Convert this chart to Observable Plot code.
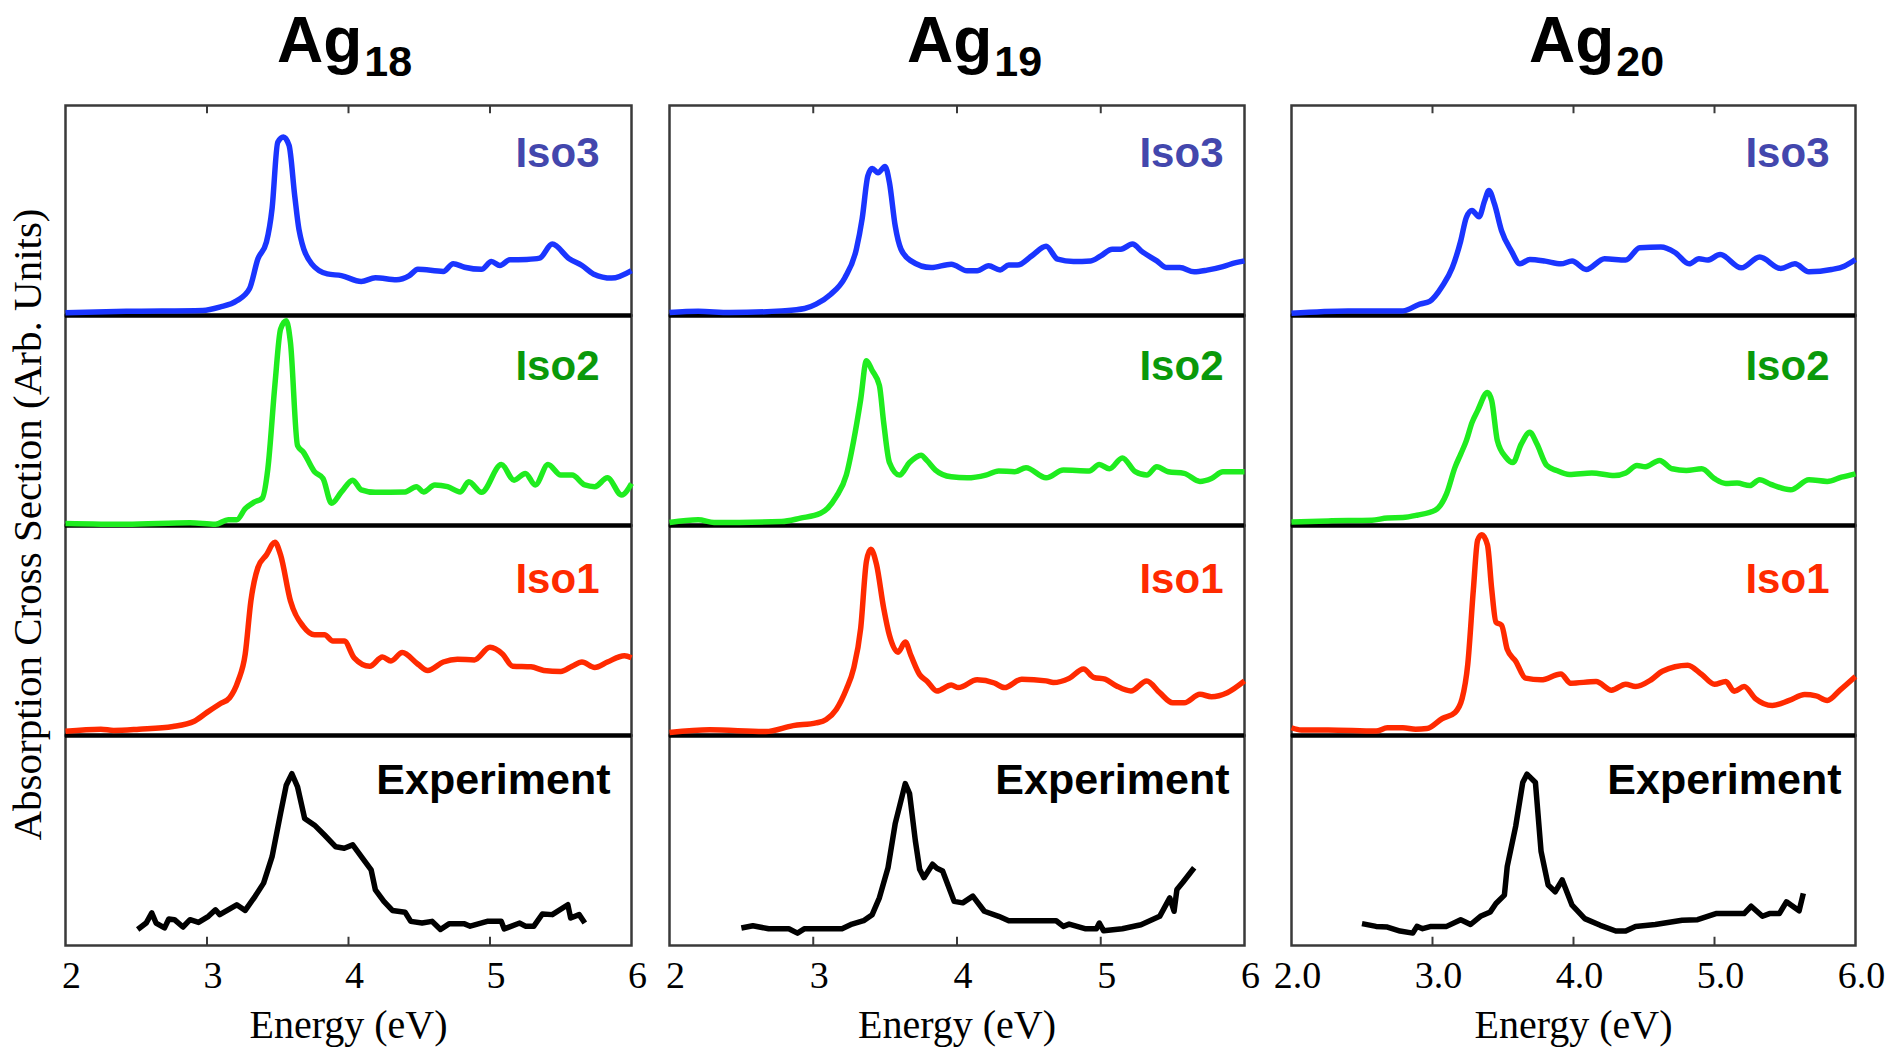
<!DOCTYPE html>
<html><head><meta charset="utf-8">
<script src="https://cdn.jsdelivr.net/npm/d3@7"></script>
<script src="https://cdn.jsdelivr.net/npm/@observablehq/plot@0.6"></script>
<style>
body{margin:0;background:#fff;}
#root{position:relative;width:1886px;height:1050px;overflow:hidden;background:#fff;}
.col{position:absolute;}
.col svg{overflow:visible;}
.title{position:absolute;font-family:"Liberation Sans",Arial,sans-serif;font-weight:bold;font-size:64px;line-height:64px;white-space:nowrap;color:#000;}
.title .sub{font-size:43px;position:relative;top:14px;margin-left:2px;}
.ylab{position:absolute;font-family:"Liberation Serif","Times New Roman",serif;font-size:41px;line-height:41px;width:760px;text-align:center;transform:rotate(-90deg);white-space:nowrap;color:#000;}
</style></head><body><div id="root"></div>
<script>
// ---------------- DATA (energy in eV, absorption in arbitrary units, 0 = panel baseline, 1 = panel top) ----------------
const rows = ["Iso3", "Iso2", "Iso1", "Experiment"];
const clusters = ["Ag18", "Ag19", "Ag20"];
const xTicks = [2, 3, 4, 5, 6];
const yLabel = "Absorption Cross Section (Arb. Units)";
const xLabel = "Energy (eV)";

const ag18Iso3 = [[2.0,0.013],[2.43,0.02],[2.97,0.024],[3.09,0.04],[3.21,0.07],[3.30,0.127],[3.36,0.27],[3.42,0.35],[3.46,0.51],[3.50,0.825],[3.54,0.85],[3.58,0.81],[3.62,0.57],[3.65,0.41],[3.74,0.246],[3.85,0.198],[3.95,0.19],[4.09,0.162],[4.19,0.18],[4.34,0.17],[4.43,0.19],[4.49,0.22],[4.67,0.21],[4.74,0.246],[4.82,0.23],[4.94,0.22],[5.01,0.257],[5.07,0.238],[5.14,0.265],[5.26,0.267],[5.35,0.273],[5.44,0.34],[5.56,0.27],[5.65,0.238],[5.73,0.198],[5.86,0.178],[6.0,0.214]];
const ag18Iso2 = [[2.0,0.01],[2.43,0.006],[2.88,0.013],[3.06,0.006],[3.15,0.027],[3.21,0.027],[3.27,0.08],[3.33,0.11],[3.39,0.13],[3.43,0.27],[3.48,0.67],[3.52,0.935],[3.56,0.975],[3.59,0.87],[3.64,0.38],[3.68,0.35],[3.76,0.256],[3.82,0.224],[3.88,0.106],[3.95,0.16],[4.03,0.216],[4.09,0.17],[4.19,0.158],[4.40,0.16],[4.48,0.185],[4.53,0.16],[4.61,0.193],[4.70,0.185],[4.79,0.16],[4.85,0.208],[4.94,0.158],[5.08,0.29],[5.17,0.216],[5.25,0.248],[5.32,0.193],[5.41,0.29],[5.50,0.24],[5.58,0.24],[5.67,0.193],[5.74,0.185],[5.83,0.227],[5.93,0.145],[6.0,0.2]];
const ag18Iso1 = [[2.0,0.02],[2.25,0.03],[2.34,0.024],[2.52,0.03],[2.76,0.043],[2.91,0.068],[3.0,0.11],[3.09,0.15],[3.16,0.18],[3.22,0.26],[3.27,0.387],[3.31,0.64],[3.36,0.80],[3.42,0.86],[3.48,0.92],[3.52,0.86],[3.59,0.64],[3.68,0.52],[3.76,0.48],[3.83,0.48],[3.89,0.45],[3.97,0.45],[4.04,0.37],[4.15,0.33],[4.24,0.374],[4.30,0.355],[4.38,0.395],[4.49,0.34],[4.56,0.31],[4.67,0.35],[4.77,0.363],[4.89,0.36],[5.0,0.42],[5.09,0.387],[5.16,0.33],[5.29,0.327],[5.38,0.31],[5.50,0.305],[5.58,0.33],[5.65,0.35],[5.74,0.324],[5.83,0.35],[5.95,0.38],[6.0,0.37]];
const ag18Exp = [[2.51,0.076],[2.57,0.107],[2.61,0.155],[2.64,0.107],[2.70,0.084],[2.73,0.126],[2.77,0.123],[2.83,0.088],[2.88,0.123],[2.94,0.11],[3.01,0.139],[3.06,0.17],[3.09,0.147],[3.21,0.194],[3.27,0.167],[3.34,0.234],[3.40,0.297],[3.46,0.423],[3.52,0.63],[3.56,0.763],[3.60,0.818],[3.64,0.755],[3.69,0.605],[3.76,0.573],[3.83,0.526],[3.91,0.47],[3.97,0.463],[4.03,0.479],[4.10,0.415],[4.16,0.36],[4.19,0.265],[4.25,0.21],[4.31,0.167],[4.40,0.158],[4.44,0.115],[4.52,0.107],[4.59,0.115],[4.65,0.076],[4.71,0.103],[4.82,0.103],[4.86,0.092],[4.98,0.115],[5.08,0.115],[5.10,0.079],[5.21,0.107],[5.25,0.092],[5.31,0.092],[5.37,0.15],[5.44,0.147],[5.55,0.194],[5.57,0.131],[5.63,0.147],[5.67,0.107]];

const ag19Iso3 = [[2.0,0.014],[2.2,0.02],[2.42,0.014],[2.78,0.022],[2.94,0.033],[3.02,0.054],[3.12,0.10],[3.22,0.18],[3.30,0.316],[3.34,0.46],[3.38,0.665],[3.41,0.70],[3.45,0.68],[3.50,0.71],[3.53,0.633],[3.57,0.427],[3.61,0.316],[3.68,0.26],[3.82,0.228],[3.96,0.244],[4.07,0.213],[4.14,0.213],[4.22,0.237],[4.30,0.217],[4.36,0.24],[4.42,0.24],[4.52,0.284],[4.62,0.33],[4.70,0.268],[4.81,0.257],[4.93,0.26],[5.0,0.284],[5.08,0.316],[5.14,0.316],[5.22,0.34],[5.29,0.303],[5.39,0.26],[5.46,0.228],[5.55,0.228],[5.65,0.208],[5.74,0.216],[5.85,0.233],[5.94,0.252],[6.0,0.26]];
const ag19Iso2 = [[2.0,0.014],[2.2,0.027],[2.31,0.014],[2.78,0.019],[2.91,0.035],[3.05,0.058],[3.10,0.082],[3.16,0.137],[3.23,0.24],[3.28,0.40],[3.33,0.60],[3.37,0.785],[3.41,0.738],[3.46,0.667],[3.49,0.49],[3.53,0.30],[3.60,0.24],[3.67,0.30],[3.75,0.335],[3.79,0.31],[3.85,0.264],[3.96,0.232],[4.07,0.227],[4.20,0.24],[4.29,0.26],[4.40,0.256],[4.48,0.275],[4.62,0.227],[4.74,0.264],[4.92,0.26],[4.99,0.29],[5.06,0.27],[5.15,0.322],[5.24,0.256],[5.32,0.24],[5.39,0.28],[5.47,0.256],[5.58,0.248],[5.69,0.21],[5.77,0.224],[5.85,0.256],[5.92,0.256],[6.0,0.256]];
const ag19Iso1 = [[2.0,0.014],[2.28,0.027],[2.67,0.019],[2.86,0.047],[3.02,0.06],[3.09,0.076],[3.16,0.124],[3.23,0.22],[3.28,0.317],[3.33,0.51],[3.37,0.83],[3.40,0.887],[3.44,0.815],[3.49,0.606],[3.53,0.477],[3.59,0.397],[3.64,0.445],[3.68,0.38],[3.74,0.29],[3.79,0.26],[3.86,0.212],[3.96,0.24],[4.01,0.228],[4.14,0.265],[4.26,0.25],[4.33,0.228],[4.45,0.268],[4.62,0.26],[4.67,0.252],[4.78,0.272],[4.88,0.317],[4.95,0.277],[5.03,0.268],[5.11,0.236],[5.21,0.212],[5.32,0.26],[5.41,0.204],[5.50,0.156],[5.58,0.156],[5.69,0.196],[5.77,0.185],[5.88,0.204],[6.0,0.26]];
const ag19Exp = [[2.50,0.083],[2.58,0.094],[2.69,0.08],[2.83,0.08],[2.89,0.059],[2.94,0.08],[3.20,0.08],[3.27,0.102],[3.35,0.118],[3.41,0.147],[3.46,0.227],[3.52,0.37],[3.57,0.58],[3.64,0.771],[3.67,0.723],[3.71,0.50],[3.74,0.363],[3.77,0.323],[3.83,0.387],[3.86,0.368],[3.90,0.355],[3.98,0.21],[4.04,0.203],[4.11,0.235],[4.19,0.163],[4.29,0.139],[4.36,0.118],[4.69,0.118],[4.74,0.091],[4.78,0.102],[4.89,0.08],[4.97,0.08],[4.99,0.107],[5.02,0.07],[5.15,0.08],[5.28,0.099],[5.41,0.139],[5.48,0.227],[5.51,0.163],[5.53,0.267],[5.57,0.30],[5.65,0.37]];

const ag20Iso3 = [[2.0,0.011],[2.40,0.022],[2.79,0.022],[2.91,0.054],[2.98,0.067],[3.07,0.14],[3.14,0.227],[3.20,0.355],[3.24,0.467],[3.28,0.50],[3.33,0.47],[3.37,0.547],[3.40,0.595],[3.44,0.53],[3.49,0.403],[3.56,0.307],[3.62,0.246],[3.69,0.267],[3.80,0.259],[3.91,0.246],[3.99,0.259],[4.09,0.219],[4.22,0.27],[4.37,0.264],[4.47,0.323],[4.62,0.326],[4.72,0.30],[4.82,0.246],[4.89,0.27],[4.95,0.264],[5.04,0.29],[5.19,0.227],[5.32,0.278],[5.47,0.224],[5.57,0.246],[5.67,0.208],[5.83,0.219],[5.92,0.235],[6.0,0.267]];
const ag20Iso2 = [[2.0,0.017],[2.26,0.022],[2.57,0.025],[2.68,0.036],[2.79,0.038],[2.89,0.049],[3.02,0.073],[3.10,0.152],[3.16,0.278],[3.20,0.34],[3.24,0.404],[3.28,0.49],[3.32,0.547],[3.39,0.633],[3.42,0.594],[3.46,0.404],[3.52,0.325],[3.57,0.30],[3.63,0.389],[3.69,0.444],[3.74,0.389],[3.81,0.286],[3.88,0.262],[3.97,0.243],[4.13,0.25],[4.29,0.238],[4.37,0.25],[4.45,0.286],[4.51,0.28],[4.61,0.31],[4.70,0.27],[4.80,0.262],[4.91,0.27],[5.0,0.223],[5.08,0.20],[5.16,0.202],[5.25,0.19],[5.32,0.218],[5.40,0.196],[5.54,0.17],[5.67,0.218],[5.80,0.21],[5.90,0.23],[6.0,0.246]];
const ag20Iso1 = [[2.0,0.037],[2.07,0.026],[2.26,0.026],[2.60,0.021],[2.68,0.037],[2.79,0.037],[2.88,0.03],[2.96,0.033],[3.07,0.081],[3.16,0.11],[3.21,0.176],[3.25,0.338],[3.29,0.696],[3.32,0.93],[3.35,0.956],[3.39,0.907],[3.42,0.696],[3.45,0.54],[3.49,0.525],[3.53,0.41],[3.59,0.354],[3.66,0.273],[3.77,0.265],[3.91,0.293],[3.98,0.249],[4.16,0.257],[4.27,0.216],[4.37,0.244],[4.44,0.233],[4.55,0.265],[4.63,0.306],[4.81,0.335],[4.91,0.29],[5.00,0.244],[5.08,0.257],[5.14,0.211],[5.21,0.233],[5.29,0.176],[5.41,0.143],[5.53,0.167],[5.64,0.195],[5.72,0.189],[5.80,0.167],[5.89,0.216],[6.0,0.281]];
const ag20Exp = [[2.50,0.104],[2.60,0.091],[2.68,0.088],[2.77,0.069],[2.86,0.059],[2.89,0.091],[2.93,0.08],[2.99,0.091],[3.10,0.091],[3.20,0.123],[3.27,0.10],[3.34,0.139],[3.41,0.16],[3.45,0.20],[3.51,0.24],[3.53,0.376],[3.59,0.568],[3.64,0.776],[3.67,0.816],[3.73,0.776],[3.77,0.448],[3.82,0.288],[3.87,0.256],[3.92,0.312],[3.99,0.192],[4.08,0.128],[4.19,0.096],[4.30,0.069],[4.37,0.069],[4.44,0.091],[4.58,0.10],[4.77,0.12],[4.88,0.123],[5.01,0.152],[5.21,0.152],[5.26,0.187],[5.34,0.139],[5.39,0.152],[5.46,0.152],[5.51,0.208],[5.60,0.165],[5.63,0.248]];

const seriesByCluster = {
  Ag18: {Iso3: ag18Iso3, Iso2: ag18Iso2, Iso1: ag18Iso1, Experiment: ag18Exp},
  Ag19: {Iso3: ag19Iso3, Iso2: ag19Iso2, Iso1: ag19Iso1, Experiment: ag19Exp},
  Ag20: {Iso3: ag20Iso3, Iso2: ag20Iso2, Iso1: ag20Iso1, Experiment: ag20Exp}
};

// ---------------- LAYOUT & STYLE ----------------
const layout = {
  Ag18: {x0: 65, x1: 631, fmt: "d", isoGap: 32, expGap: 21, titleLeft: 277, sub: "18"},
  Ag19: {x0: 669, x1: 1244, fmt: "d", isoGap: 21, expGap: 15, titleLeft: 907, sub: "19"},
  Ag20: {x0: 1291, x1: 1855, fmt: ".1f", isoGap: 26, expGap: 14, titleLeft: 1529, sub: "20"}
};
const lineColor = {Iso3: "#1a35ff", Iso2: "#1fec1f", Iso1: "#ff2a00", Experiment: "#000000"};
const labelColor = {Iso3: "#4347ad", Iso2: "#0a990a", Iso1: "#ff2a00", Experiment: "#000000"};
const labelDy = {Iso3: 32, Iso2: 35, Iso1: 38, Experiment: 28};
const panelTop = 103, panelH = 843, mT = 3, mB = 104, mL = 30, mR = 30;
const facetH = panelH / 4;

const root = document.getElementById("root");

function columnPlot(name) {
  const cfg = layout[name];
  const s = seriesByCluster[name];
  const marks = [
    Plot.frame({stroke: "#3a3a3a", strokeWidth: 2.5}),
    Plot.ruleY(rows.slice(0, 3).map(row => ({row})), {y: () => 0, fy: "row", stroke: "#000", strokeWidth: 4.5}),
    Plot.tickX([3, 4, 5].map(x => ({x, row: "Iso3"})), {x: "x", fy: "row", insetBottom: facetH - 9, stroke: "#3a3a3a", strokeWidth: 2}),
    Plot.tickX([3, 4, 5].map(x => ({x, row: "Experiment"})), {x: "x", fy: "row", insetTop: facetH - 9, stroke: "#3a3a3a", strokeWidth: 2})
  ];
  for (const row of rows) {
    const data = s[row].map(([x, y]) => ({x, y, row}));
    marks.push(Plot.line(data, {
      x: "x", y: "y", fy: "row", stroke: lineColor[row], strokeWidth: 5.5,
      curve: row === "Experiment" ? "linear" : "monotone-x",
      strokeLinejoin: "round", strokeLinecap: "butt"
    }));
    marks.push(Plot.text([{row}], {
      fy: "row", text: "row", frameAnchor: "top-right", textAnchor: "end", lineAnchor: "top",
      dx: -(row === "Experiment" ? cfg.expGap : cfg.isoGap), dy: labelDy[row],
      fill: labelColor[row], fontSize: row === "Experiment" ? 43 : 42, fontWeight: "bold",
      fontFamily: "Liberation Sans, Arial, sans-serif"
    }));
  }
  marks.push(Plot.axisX({
    ticks: xTicks, tickSize: 0, tickPadding: 16, tickFormat: d3.format(cfg.fmt),
    fontSize: 38, fontFamily: "Liberation Serif, Times New Roman, serif", label: null, dx: 6
  }));
  marks.push(Plot.text([{row: "Experiment"}], {
    fy: "row", text: () => xLabel, frameAnchor: "bottom", dy: 80, lineAnchor: "middle",
    fontSize: 40, fontFamily: "Liberation Serif, Times New Roman, serif", fill: "#000"
  }));
  return Plot.plot({
    width: cfg.x1 - cfg.x0 + mL + mR,
    height: mT + panelH + mB,
    marginTop: mT, marginBottom: mB, marginLeft: mL, marginRight: mR,
    style: {background: "transparent", overflow: "visible", color: "#000"},
    x: {domain: [2, 6]},
    y: {domain: [0, 1], axis: null},
    fy: {domain: rows, axis: null, padding: 0},
    marks
  });
}

for (const name of clusters) {
  const cfg = layout[name];
  const wrap = document.createElement("div");
  wrap.className = "col";
  wrap.style.left = (cfg.x0 - mL) + "px";
  wrap.style.top = (panelTop - mT) + "px";
  wrap.appendChild(columnPlot(name));
  root.appendChild(wrap);

  const t = document.createElement("div");
  t.className = "title";
  t.style.left = cfg.titleLeft + "px";
  t.style.top = "8px";
  t.innerHTML = "Ag<span class='sub'>" + cfg.sub + "</span>";
  root.appendChild(t);
}

const yl = document.createElement("div");
yl.className = "ylab";
yl.textContent = yLabel;
yl.style.left = (27 - 380) + "px";
yl.style.top = (524 - 20) + "px";
root.appendChild(yl);
</script></body></html>
